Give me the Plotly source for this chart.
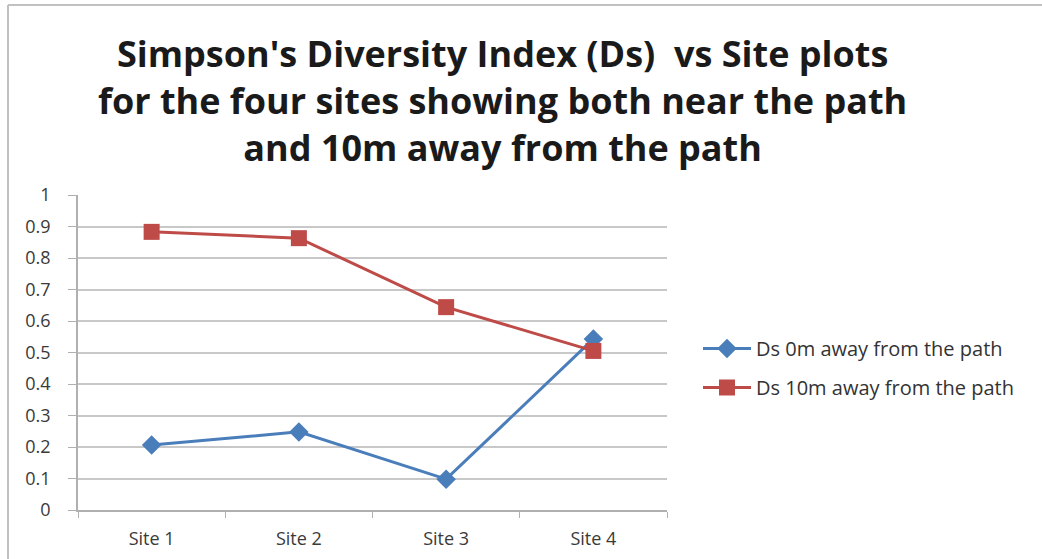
import plotly.graph_objects as go

sites = ["Site 1", "Site 2", "Site 3", "Site 4"]
ds_0m = [0.206, 0.248, 0.098, 0.543]
ds_10m = [0.883, 0.863, 0.644, 0.505]
y_ticks = [0, 0.1, 0.2, 0.3, 0.4, 0.5, 0.6, 0.7, 0.8, 0.9, 1]
y_labels = ["0", "0.1", "0.2", "0.3", "0.4", "0.5", "0.6", "0.7", "0.8", "0.9", "1"]

W, H = 1042, 559
L, R, T, B = 78, 375, 195, 49
pw, ph = W - L - R, H - T - B

def px_x(p):
    return (p - L) / pw

def px_y(p):
    return (H - B - p) / ph

FONT = "Open Sans, Lato, sans-serif"

fig = go.Figure()
fig.add_trace(go.Scatter(
    x=sites, y=ds_0m, mode="lines+markers", name="Ds 0m away from the path",
    legendgroup="a",
    line=dict(color="#4A7EBB", width=3),
    marker=dict(symbol="diamond", size=15, color="#4A7EBB"),
))
fig.add_trace(go.Scatter(
    x=sites, y=ds_10m, mode="lines+markers", name="Ds 10m away from the path",
    legendgroup="b",
    line=dict(color="#BE4B48", width=3),
    marker=dict(symbol="square", size=16, color="#BE4B48"),
))

fig.update_layout(
    width=W, height=H,
    margin=dict(l=L, r=R, t=T, b=B),
    paper_bgcolor="white", plot_bgcolor="white",
    font=dict(family=FONT, color="#404040"),
    showlegend=True,
    legend=dict(x=px_x(698), y=px_y(368), xanchor="left", yanchor="middle",
                font=dict(size=20, color="#333333"), tracegroupgap=10,
                itemwidth=48, bgcolor="rgba(0,0,0,0)"),
    annotations=[dict(
        text="Simpson's Diversity Index (Ds)  vs Site plots<br>for the four sites showing both near the path<br>and 10m away from the path",
        xref="paper", yref="paper", x=px_x(502), y=px_y(101),
        xanchor="center", yanchor="middle", showarrow=False,
        font=dict(family=FONT, size=36, color="#1a1a1a", weight="bold"),
        align="center",
    )],
    shapes=[
        dict(type="line", xref="paper", yref="paper", x0=px_x(8), x1=px_x(W + 5),
             y0=px_y(5), y1=px_y(5), line=dict(color="#c0c0c0", width=2)),
        dict(type="line", xref="paper", yref="paper", x0=px_x(8), x1=px_x(8),
             y0=px_y(5), y1=px_y(H + 5), line=dict(color="#c0c0c0", width=2)),
    ],
)

fig.update_xaxes(
    type="category", range=[-0.5, 3.5], automargin=False,
    showgrid=False, showline=True, linecolor="#b0b0b0", linewidth=1.5,
    ticks="outside", ticklen=6, tickcolor="#b0b0b0", tickson="boundaries",
    ticklabelstandoff=12,
    tickfont=dict(size=18, color="#3a3a3a"), zeroline=False,
)
fig.update_yaxes(
    range=[0, 1], tickvals=y_ticks, ticktext=y_labels, automargin=False,
    showgrid=True, gridcolor="#c8c8c8", gridwidth=1.5,
    showline=True, linecolor="#b0b0b0", linewidth=1.5,
    ticks="outside", ticklen=8, tickcolor="#b0b0b0",
    ticklabelstandoff=14,
    tickfont=dict(size=18, color="#3a3a3a"), zeroline=False,
)

fig.write_html("out.html", config={"displayModeBar": False},
               post_script="document.body.style.margin='0';document.body.style.overflow='hidden';")
